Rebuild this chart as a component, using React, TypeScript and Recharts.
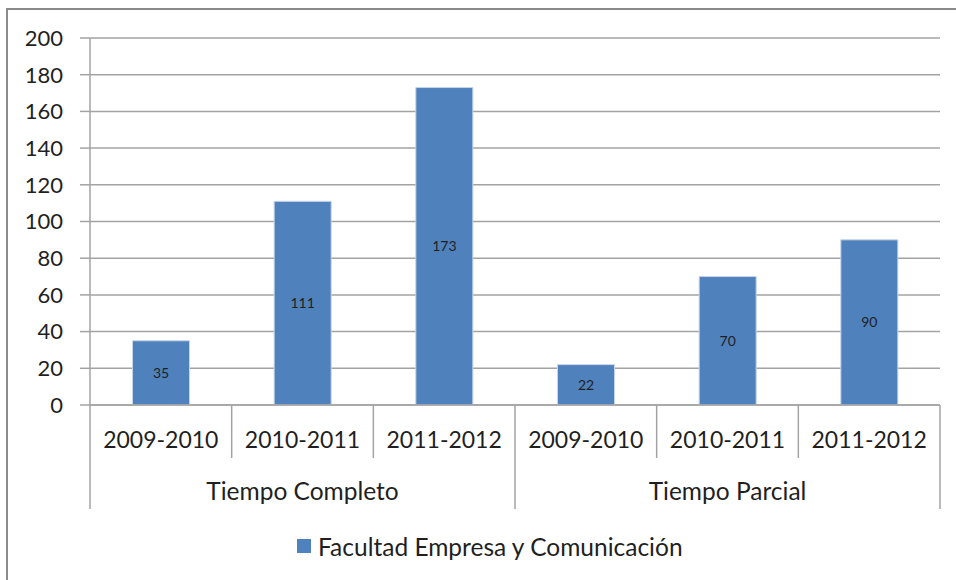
import { BarChart, Bar, XAxis, YAxis, CartesianGrid, Legend, LabelList } from 'recharts';

const years = ['2009-2010', '2010-2011', '2011-2012', '2009-2010', '2010-2011', '2011-2012'];
const groups = ['Tiempo Completo', 'Tiempo Completo', 'Tiempo Completo', 'Tiempo Parcial', 'Tiempo Parcial', 'Tiempo Parcial'];
const values = [35, 111, 173, 22, 70, 90];
const yTicks = [0, 20, 40, 60, 80, 100, 120, 140, 160, 180, 200];
const seriesName = 'Facultad Empresa y Comunicación';

const data = years.map((year, i) => ({ year, group: groups[i], value: values[i] }));

const FONT = 'Lato, "Open Sans", sans-serif';
const TEXT = '#1f1f1f';
const LINE = '#a3a3a3';
const BLUE = '#4f81bd';
const GROUP_SIZE = 3;
const YEAR_ROW = 53;
const GROUP_ROW = 51;

function YearTick(props: any) {
  const { x, y, payload, index, width } = props;
  const half = payload?.offset || (width ?? 850) / years.length / 2;
  const left = x - half;
  const startsGroup = index % GROUP_SIZE === 0;
  const last = index === years.length - 1;
  return (
    <g>
      <line x1={left} x2={left} y1={y} y2={y + (startsGroup ? YEAR_ROW + GROUP_ROW : YEAR_ROW)} stroke={LINE} strokeWidth={1.5} />
      {last && <line x1={x + half} x2={x + half} y1={y} y2={y + YEAR_ROW + GROUP_ROW} stroke={LINE} strokeWidth={1.5} />}
      <text x={x} y={y + 35} dy="0.355em" textAnchor="middle" fill={TEXT} fontSize={23} fontFamily={FONT}>
        {payload.value}
      </text>
    </g>
  );
}

function GroupTick(props: any) {
  const { x, y, payload, index } = props;
  if (index % GROUP_SIZE !== 1) return <g />;
  return (
    <text x={x} y={y + 33} dy="0.355em" textAnchor="middle" fill={TEXT} fontSize={24.5} fontFamily={FONT}>
      {payload.value}
    </text>
  );
}

function LegendBox() {
  return (
    <div style={{ height: 71, display: 'flex', alignItems: 'center', paddingLeft: 297, paddingTop: 3, boxSizing: 'border-box' }}>
      <span style={{ width: 14, height: 14, background: BLUE, display: 'inline-block', marginRight: 7 }} />
      <span style={{ fontFamily: FONT, fontSize: 24.5, color: TEXT }}>{seriesName}</span>
    </div>
  );
}

export default function App() {
  return (
    <div style={{ position: 'absolute', left: 0, top: 0, width: 956, height: 580, background: '#fff', overflow: 'hidden' }}>
      <div
        style={{
          position: 'absolute',
          left: 6,
          top: 8,
          width: 950,
          height: 572,
          borderLeft: '2px solid #8a8a8a',
          borderTop: '2px solid #8a8a8a',
          boxSizing: 'border-box',
        }}
      />
      <BarChart width={956} height={580} data={data} margin={{ top: 38, right: 16, left: 0, bottom: 0 }} barCategoryGap="30%">
        <CartesianGrid xAxisId="a" vertical={false} stroke={LINE} strokeWidth={1.5} />
        <YAxis
          width={90}
          domain={[0, 200]}
          ticks={yTicks}
          interval={0}
          tickSize={10}
          tickMargin={17}
          axisLine={{ stroke: LINE, strokeWidth: 1.5 }}
          tickLine={{ stroke: LINE, strokeWidth: 1.5 }}
          tick={{ fill: TEXT, fontSize: 22, fontFamily: FONT }}
        />
        <XAxis
          xAxisId="a"
          dataKey="year"
          height={YEAR_ROW}
          interval={0}
          tickSize={0}
          tickMargin={0}
          tickLine={false}
          axisLine={{ stroke: LINE, strokeWidth: 1.5 }}
          tick={<YearTick />}
        />
        <XAxis
          xAxisId="b"
          dataKey="group"
          height={GROUP_ROW}
          interval={0}
          tickSize={0}
          tickMargin={0}
          tickLine={false}
          axisLine={false}
          tick={<GroupTick />}
        />
        <Legend verticalAlign="bottom" height={71} content={<LegendBox />} />
        <Bar xAxisId="a" dataKey="value" name={seriesName} fill={BLUE} stroke="#c6d4e8" strokeWidth={1} isAnimationActive={false}>
          <LabelList dataKey="value" position="center" fill={TEXT} fontSize={14} fontFamily={FONT} />
        </Bar>
      </BarChart>
    </div>
  );
}
